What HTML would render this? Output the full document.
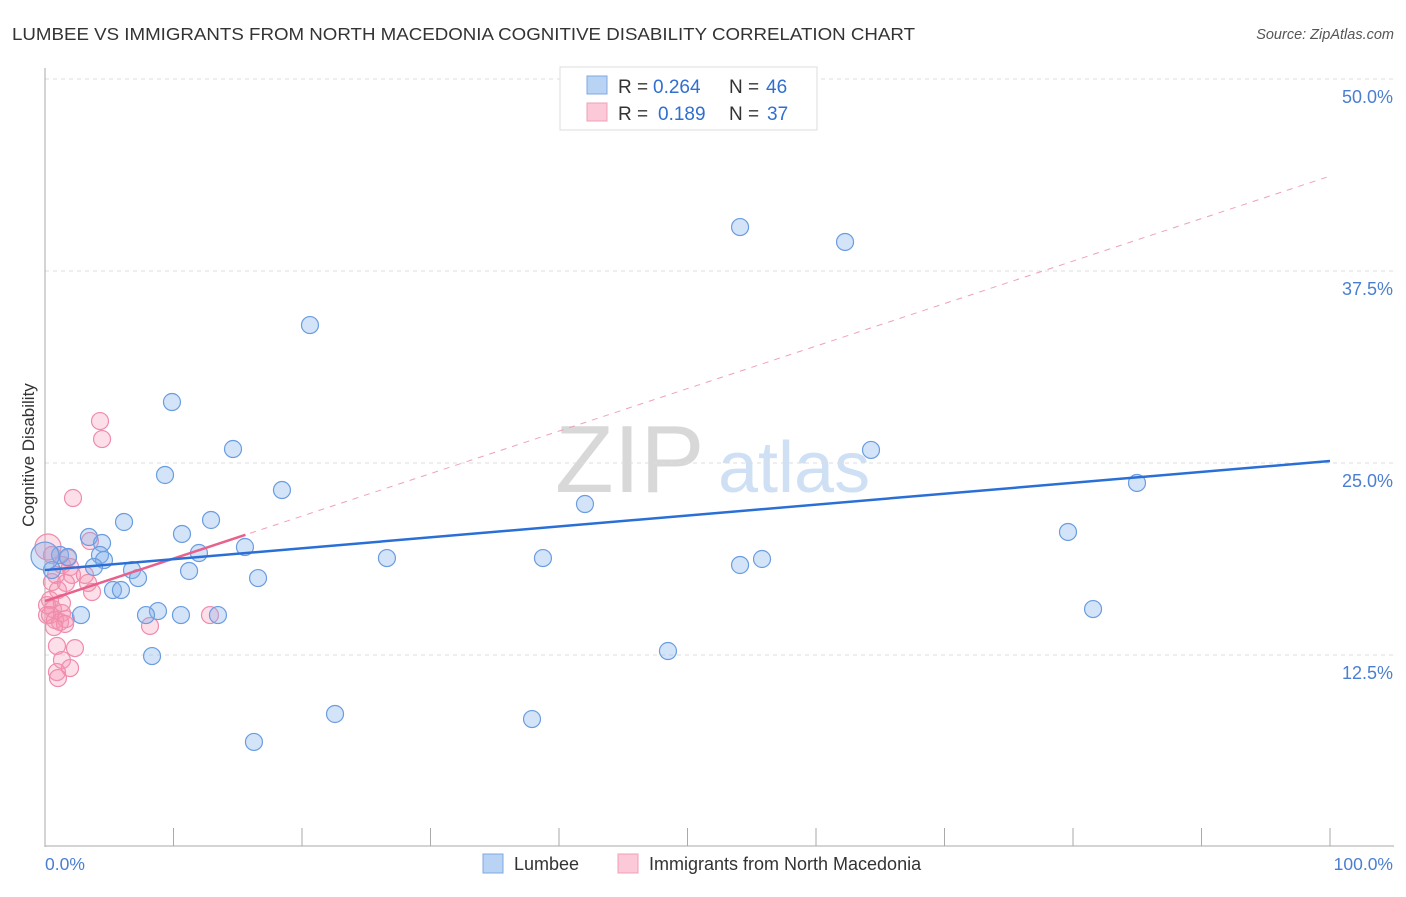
<!DOCTYPE html>
<html><head><meta charset="utf-8"><style>
body{margin:0;background:#fff;font-family:"Liberation Sans",sans-serif}
svg text{font-family:"Liberation Sans",sans-serif}
</style></head><body>
<svg id="c" width="1406" height="892">
<text x="12" y="40" font-size="17.5" fill="#333" textLength="903" lengthAdjust="spacingAndGlyphs">LUMBEE VS IMMIGRANTS FROM NORTH MACEDONIA COGNITIVE DISABILITY CORRELATION CHART</text>
<text x="1394" y="39" font-size="14.5" fill="#555" font-style="italic" text-anchor="end">Source: ZipAtlas.com</text>
<text x="555" y="492" font-size="96" fill="#d8d8d8" font-family="Liberation Serif,serif">ZIP</text>
<text x="718" y="492" font-size="72" fill="#cfe0f4">atlas</text>
<g id="grid"></g><g id="marks"></g>
<text transform="translate(34,455) rotate(-90)" font-size="17" fill="#333" text-anchor="middle">Cognitive Disability</text>
<text x="45" y="870" font-size="17.5" fill="#4a7fd0">0.0%</text>
<text x="1393" y="870" font-size="17.5" fill="#4a7fd0" text-anchor="end">100.0%</text>
<g>
<rect x="560" y="67" width="257" height="63" fill="#fff" stroke="#ddd"/>
<rect x="587" y="76" width="20" height="18" fill="#b9d3f5" stroke="#7ea8e0"/>
<rect x="587" y="103" width="20" height="18" fill="#fbc9d8" stroke="#f0a0b8"/>
<text x="618" y="93" font-size="19" fill="#333">R =</text>
<text x="653" y="93" font-size="19" fill="#2f6fd0">0.264</text>
<text x="729" y="93" font-size="19" fill="#333">N =</text>
<text x="766" y="93" font-size="19" fill="#2f6fd0">46</text>
<text x="618" y="120" font-size="19" fill="#333">R =</text>
<text x="658" y="120" font-size="19" fill="#2f6fd0">0.189</text>
<text x="729" y="120" font-size="19" fill="#333">N =</text>
<text x="767" y="120" font-size="19" fill="#2f6fd0">37</text>
</g>
<g>
<rect x="483" y="854" width="20" height="19" fill="#b9d3f5" stroke="#7ea8e0"/>
<text x="514" y="870" font-size="18" fill="#333">Lumbee</text>
<rect x="618" y="854" width="20" height="19" fill="#fbc9d8" stroke="#f0a0b8"/>
<text x="649" y="870" font-size="18" fill="#333">Immigrants from North Macedonia</text>
</g>
</svg>
<script>
const yTicks=[12.5,25,37.5,50];
const yTickLabels=["12.5%","25.0%","37.5%","50.0%"];
const lumbeeX=[54.09,62.26,20.62,9.88,14.63,64.28,9.34,18.44,84.98,42.02,6.15,12.92,10.66,3.42,4.44,79.61,1.17,4.28,1.79,4.59,15.56,11.98,26.61,38.75,55.80,54.09,3.81,0.54,6.77,11.21,7.24,16.58,5.29,5.91,8.79,7.86,10.58,13.46,2.80,81.56,8.33,48.48,22.57,37.90,16.26,0];
const lumbeeY=[40.36,39.39,33.98,28.97,25.91,25.85,24.22,23.24,23.70,22.33,21.16,21.29,20.38,20.18,19.79,20.51,19.01,19.01,18.88,18.68,19.53,19.14,18.81,18.81,18.75,18.36,18.23,18.03,18.03,17.97,17.51,17.51,16.73,16.73,15.36,15.10,15.10,15.10,15.10,15.49,12.43,12.76,8.66,8.33,6.84,18.94];
const macX=[4.28,4.44,2.18,3.50,1.79,1.32,1.95,0.86,2.10,3.11,3.35,3.66,0.54,0.39,0.16,0.62,0.16,0.39,1.32,0.78,1.17,1.63,1.56,8.17,12.84,0.93,2.33,1.32,1.95,0.93,1.01,0.23,0.54,1.01,1.63,0.70,1.32];
const macY=[27.73,26.56,22.72,19.92,18.81,18.36,18.23,17.71,17.71,17.71,17.19,16.60,17.25,16.08,15.75,15.49,15.10,15.10,15.23,14.78,14.65,14.84,14.52,14.39,15.10,13.09,12.95,12.17,11.65,11.39,11.00,19.53,19.01,16.73,17.19,14.32,15.88];
const lumbeeTrend=[18.03,25.13];
const macTrend=[16.01,43.68];
const NS="http://www.w3.org/2000/svg";
const X=v=>45+v*12.85, Y=v=>847-v*192/12.5;
function mk(t,a,p){const e=document.createElementNS(NS,t);for(const k in a)e.setAttribute(k,a[k]);p.appendChild(e);return e;}
const g=document.getElementById('grid'),m=document.getElementById('marks');
yTicks.forEach((t,i)=>{
 const l=mk('line',{x1:45,x2:1394,y1:Y(t),y2:Y(t),stroke:'#ddd','stroke-dasharray':'4,4'},g);
 
 
 const tx=mk('text',{x:1393,y:Y(t)+24,'font-size':18,fill:'#4a7fd0','text-anchor':'end'},g);
 tx.textContent=yTickLabels[i];
 
 
});
const ax=mk('line',{x1:45,x2:45,y1:68,y2:847,stroke:'#aaa'},g);


const bx=mk('line',{x1:45,x2:1394,y1:846,y2:846,stroke:'#aaa'},g);


for(let k=1;k<=10;k++){const t=mk('line',{x1:X(k*10),x2:X(k*10),y1:828,y2:846,stroke:'#aaa'},g);
 
 }
macX.forEach((x,i)=>{const c=mk('circle',{cx:X(x),cy:Y(macY[i]),r:i==31?13:8.5,fill:'rgba(245,150,180,0.3)',stroke:'#f08cab','stroke-width':1.2},m);
 
 });
lumbeeX.forEach((x,i)=>{const c=mk('circle',{cx:X(x),cy:Y(lumbeeY[i]),r:i==45?14:8.5,fill:'rgba(130,175,235,0.35)',stroke:'#6a9de0','stroke-width':1.2},m);
 
 });
const pd=mk('line',{x1:X(0),y1:Y(macTrend[0]),x2:X(100),y2:Y(macTrend[1]),stroke:'#f0a0b8','stroke-dasharray':'6,6','stroke-width':1},m);


const ps=mk('line',{x1:X(0),y1:Y(macTrend[0]),x2:X(15.6),y2:Y(macTrend[0]+(macTrend[1]-macTrend[0])*0.156),stroke:'#e8608c','stroke-width':2.5},m);


const bl=mk('line',{x1:X(0),y1:Y(lumbeeTrend[0]),x2:X(100),y2:Y(lumbeeTrend[1]),stroke:'#2a6fd6','stroke-width':2.5},m);


</script>
</body></html>
